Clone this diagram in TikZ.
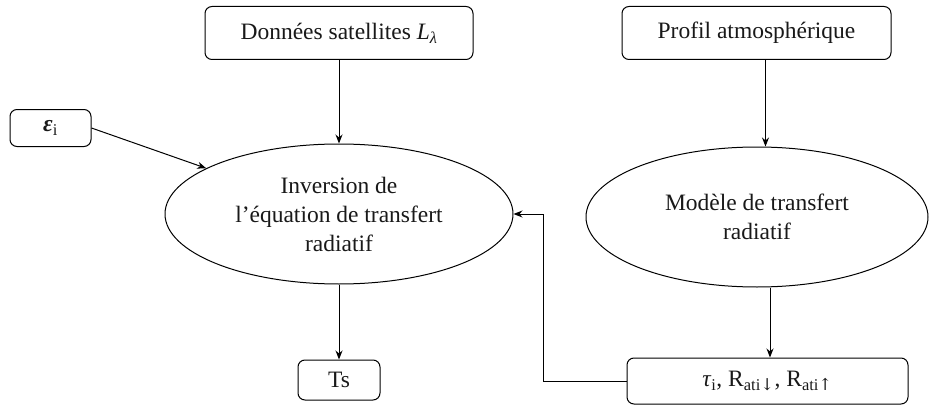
\documentclass[tikz,border=0pt]{standalone}
\usepackage{fontspec}
\setmainfont{Liberation Serif}
\newfontfamily\arrfont{DejaVu Serif}
\usetikzlibrary{shapes.geometric,arrows.meta}
\begin{document}
\begin{tikzpicture}[x=1pt,y=-1pt,
  every node/.style={font=\fontsize{23.5}{29}\selectfont, inner sep=2pt, text=black!90},
  box/.style={draw, rounded corners=7pt, line width=1pt},
  ell/.style={draw, ellipse, line width=1pt, align=center, inner sep=0pt},
  arr/.style={draw, line width=1pt, -{Stealth[length=9pt,width=7pt]}}]
\useasboundingbox (0,0) rectangle (940,412);
\node[box, minimum width=268pt, minimum height=53pt] (don) at (339,33) {Données satellites \textit{L}\textsubscript{\textit{λ}}};
\node[box, minimum width=269pt, minimum height=53pt] (prof) at (756.5,33) {Profil atmosphérique};
\node[box, minimum width=81pt, minimum height=37pt] (eps) at (50.5,128) {\textbf{\textit{ε}}\textsubscript{i}};
\node[ell, minimum width=348pt, minimum height=140pt] (inv) at (339,214) {Inversion de\\l’équation de transfert\\radiatif};
\node[ell, minimum width=342pt, minimum height=140pt] (mod) at (757,217) {Modèle de transfert\\radiatif};
\node[box, minimum width=82pt, minimum height=40pt] (ts) at (339,380) {Ts};
\node[box, minimum width=281pt, minimum height=46pt] (tau) at (767.5,381) {\textit{τ}\textsubscript{i}, R\textsubscript{ati{\arrfont ↓}}, R\textsubscript{ati{\arrfont ↑}}};
\draw[arr] (don.south) -- (inv.north);
\draw[arr] ([xshift=9pt]prof.south) -- ([xshift=9pt]prof.south |- mod.north);
\draw[arr] (eps.east) -- (inv.161);
\draw[arr] (inv.south) -- (ts.north);
\draw[arr] ([xshift=13pt]mod.south) -- ([xshift=13pt]mod.south |- tau.north);
\coordinate (bend) at (543,381);
\draw[arr] (tau.west) -- (bend) |- (inv.east);
\end{tikzpicture}
\end{document}
